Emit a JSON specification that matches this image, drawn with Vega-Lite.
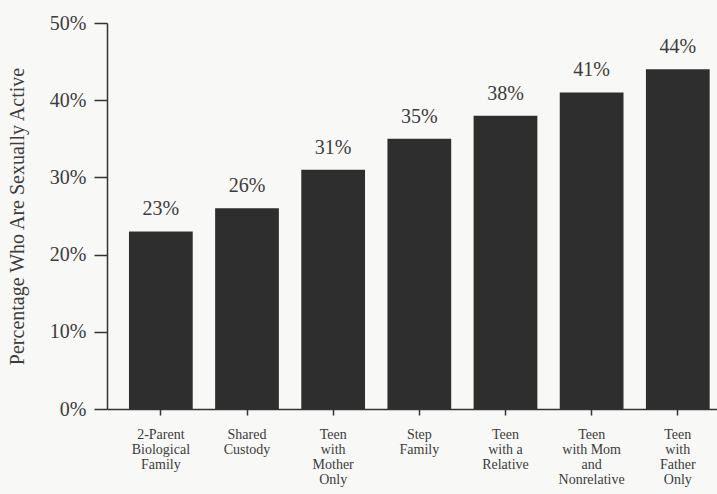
{
  "$schema": "https://vega.github.io/schema/vega-lite/v6.json",
  "autosize": "none",
  "width": 610,
  "height": 386,
  "padding": {"left": 107, "top": 23, "right": 0, "bottom": 85},
  "background": "#f8f8f6",
  "config": {
    "view": {"stroke": null},
    "font": "Liberation Serif",
    "axis": {"grid": false, "domainColor": "#333333", "tickColor": "#333333", "labelColor": "#3c3c3c", "titleColor": "#3c3c3c", "labelFont": "Liberation Serif", "titleFont": "Liberation Serif", "titleFontWeight": "normal", "domainWidth": 1.5, "tickWidth": 1.5}
  },
  "data": {
    "values": [
      {"family": "2-Parent|Biological|Family", "pct": 23},
      {"family": "Shared|Custody", "pct": 26},
      {"family": "Teen|with|Mother|Only", "pct": 31},
      {"family": "Step|Family", "pct": 35},
      {"family": "Teen|with a|Relative", "pct": 38},
      {"family": "Teen|with Mom|and|Nonrelative", "pct": 41},
      {"family": "Teen|with|Father|Only", "pct": 44}
    ]
  },
  "encoding": {
    "x": {
      "field": "family",
      "type": "nominal",
      "sort": null,
      "scale": {"paddingInner": 0.26, "paddingOuter": 0.17, "align": 0.75},
      "axis": {
        "title": null,
        "labelAngle": 0,
        "labelExpr": "split(datum.label, '|')",
        "labelFontSize": 14,
        "labelLineHeight": 15,
        "labelBaseline": "top",
        "labelPadding": 12,
        "tickSize": 6
      }
    },
    "y": {
      "field": "pct",
      "type": "quantitative",
      "scale": {"domain": [0, 50], "nice": false},
      "axis": {
        "title": "Percentage Who Are Sexually Active",
        "titleFontSize": 20,
        "titleX": -90,
        "titleY": 193,
        "titleAngle": -90,
        "titleAlign": "center",
        "titleBaseline": "middle",
        "values": [0, 10, 20, 30, 40, 50],
        "labelExpr": "datum.value + '%'",
        "labelFontSize": 20,
        "labelPadding": 8,
        "tickSize": 13
      }
    }
  },
  "layer": [
    {"mark": {"type": "bar", "color": "#2e2e2e"}},
    {
      "mark": {"type": "text", "baseline": "alphabetic", "dy": -16, "fontSize": 20, "color": "#3c3c3c", "font": "Liberation Serif", "text": {"expr": "datum.pct + '%'"}}
    }
  ]
}
